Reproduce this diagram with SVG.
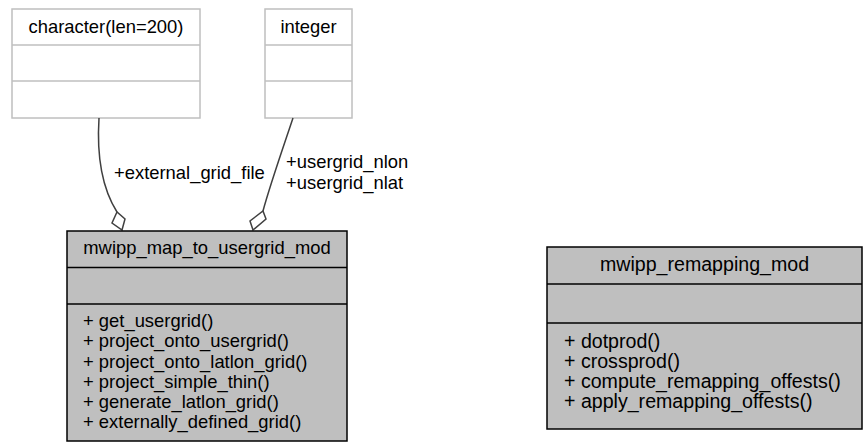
<svg xmlns="http://www.w3.org/2000/svg" width="864" height="444" viewBox="0 0 864 444">
<style>
text{font-family:"Liberation Sans",Arial,sans-serif;font-size:18.4px;fill:#000}
.t{text-anchor:middle}
.r text{font-size:19.6px}
.light{fill:#fff;stroke:#bfbfbf;stroke-width:1.5}
.dark{fill:#bfbfbf;stroke:#000;stroke-width:1.5}
.edge{fill:none;stroke:#404040;stroke-width:1.5}
.dia{fill:#fff;stroke:#404040;stroke-width:1.5}
</style>
<rect width="864" height="444" fill="#fff"/>
<g id="node-character">
<rect class="light" x="12" y="9" width="188" height="109"/>
<line class="light" x1="12" y1="45" x2="200" y2="45"/>
<line class="light" x1="12" y1="81" x2="200" y2="81"/>
<text class="t" x="106" y="33">character(len=200)</text>
</g>
<g id="node-integer">
<rect class="light" x="265" y="9" width="87" height="109"/>
<line class="light" x1="265" y1="45" x2="352" y2="45"/>
<line class="light" x1="265" y1="81" x2="352" y2="81"/>
<text class="t" x="308.5" y="33">integer</text>
</g>
<g id="connectors">
<path class="edge" d="M99,118 C97,150 100,185 117,212"/>
<polygon class="dia" points="122,230 125,219 117,212 112,223"/>
<text x="114" y="179">+external_grid_file</text>
<path class="edge" d="M293,118 C284,145 270,185 263,211"/>
<polygon class="dia" points="253,230 266,219 263,211 250,221"/>
<text x="286" y="168">+usergrid_nlon</text>
<text x="286" y="189">+usergrid_nlat</text>
</g>
<g id="node-mwipp_map_to_usergrid_mod">
<rect class="dark" x="67" y="231" width="280" height="210"/>
<line class="dark" x1="67" y1="267.5" x2="347" y2="267.5"/>
<line class="dark" x1="67" y1="304" x2="347" y2="304"/>
<text class="t" x="207" y="254">mwipp_map_to_usergrid_mod</text>
<text x="83" y="327">+ get_usergrid()</text>
<text x="83" y="347">+ project_onto_usergrid()</text>
<text x="83" y="367.5">+ project_onto_latlon_grid()</text>
<text x="83" y="388">+ project_simple_thin()</text>
<text x="83" y="408">+ generate_latlon_grid()</text>
<text x="83" y="428">+ externally_defined_grid()</text>
</g>
<g id="node-mwipp_remapping_mod" class="r">
<rect class="dark" x="547" y="247" width="315" height="182"/>
<line class="dark" x1="547" y1="284" x2="862" y2="284"/>
<line class="dark" x1="547" y1="323" x2="862" y2="323"/>
<text class="t" x="704.5" y="271">mwipp_remapping_mod</text>
<text x="564" y="348">+ dotprod()</text>
<text x="564" y="368">+ crossprod()</text>
<text x="564" y="388">+ compute_remapping_offests()</text>
<text x="564" y="408">+ apply_remapping_offests()</text>
</g>
</svg>
